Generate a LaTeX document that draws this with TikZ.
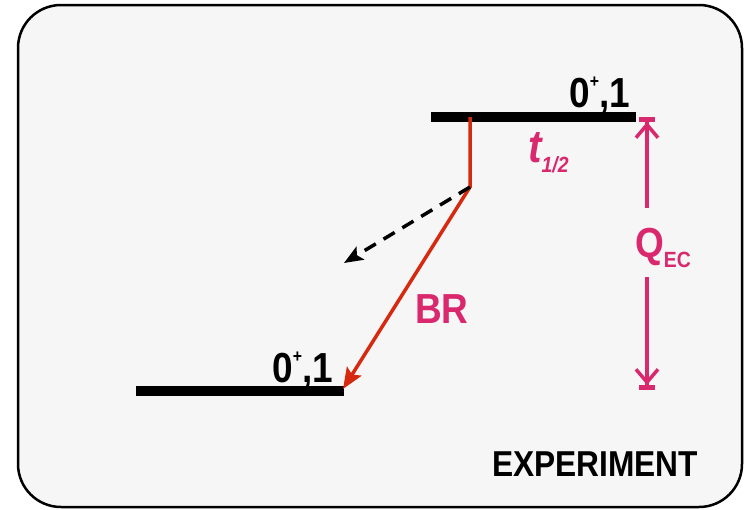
\documentclass[tikz,border=0pt]{standalone}
\usepackage{fontspec}
\setmainfont{Liberation Sans}
\usetikzlibrary{arrows.meta,positioning,calc}
\definecolor{panel}{HTML}{F6F6F6}
\definecolor{rose}{HTML}{D9286E}
\definecolor{decayred}{HTML}{D52A10}

\begin{document}
\begin{tikzpicture}[x=1pt,y=-1pt,
  frame/.style={draw=black, line width=2.5pt, fill=panel, rounded corners=43pt},
  level/.style={line width=9.5pt},
  decay/.style={decayred, line width=3.5pt, -{Stealth[length=21pt,width=17pt,inset=4pt]}},
  branch/.style={line width=3.5pt, dash pattern=on 13pt off 9pt, -{Stealth[length=19pt,width=15pt,inset=4pt]}},
  qarr/.style={rose, line width=3.5pt, -{Straight Barb[length=13pt,width=22pt,line width=3.5pt] Bar[width=16pt,line width=5pt]}},
  spin/.style={font=\fontsize{42}{42}\selectfont\bfseries, inner sep=0pt, xscale=0.88},
  tag/.style={spin, text=rose}
]
\useasboundingbox (0,0) rectangle (747,509);
\draw[frame] (18,5) rectangle (742,507);

\coordinate (upL) at (431,117);
\coordinate (upR) at (636,117);
\coordinate (lowL) at (136,391);
\coordinate (lowR) at (344,391);
\draw[level] (upL) -- (upR);
\draw[level] (lowL) -- (lowR);

\node[spin, anchor=base east] (upspin) at (630,107) {0\raisebox{20pt}{\fontsize{18}{18}\selectfont +},1};
\node[spin, anchor=base east] (lowspin) at (333,382) {0\raisebox{20pt}{\fontsize{18}{18}\selectfont +},1};

\coordinate (start) at (470,117);
\coordinate (kink) at (470,187);
\coordinate (tip) at (343,389);
\coordinate (side) at (344,263);
\draw[decay] (start) -- (kink) -- (tip);
\draw[branch] (kink) -- (side);

\node[tag, anchor=base west] (br) at (415,323) {BR};
\node[tag, anchor=base west, font=\fontsize{46}{46}\selectfont\bfseries\itshape] (thalf) at (528,162) {t\raisebox{-10pt}{\fontsize{22}{22}\selectfont 1/2}};

\coordinate (qtop) at (647,117);
\coordinate (qbot) at (647,390);
\coordinate (qhi) at (647,208);
\coordinate (qlo) at (647,277);
\node[tag, anchor=base west] (qec) at (635,257) {Q\raisebox{-10pt}{\fontsize{22}{22}\selectfont EC}};
\draw[qarr] (qhi) -- (qtop);
\draw[qarr] (qlo) -- (qbot);

\node[spin, anchor=base west, font=\fontsize{36}{36}\selectfont\bfseries] (expt) at (492,476) {EXPERIMENT};
\end{tikzpicture}
\end{document}
